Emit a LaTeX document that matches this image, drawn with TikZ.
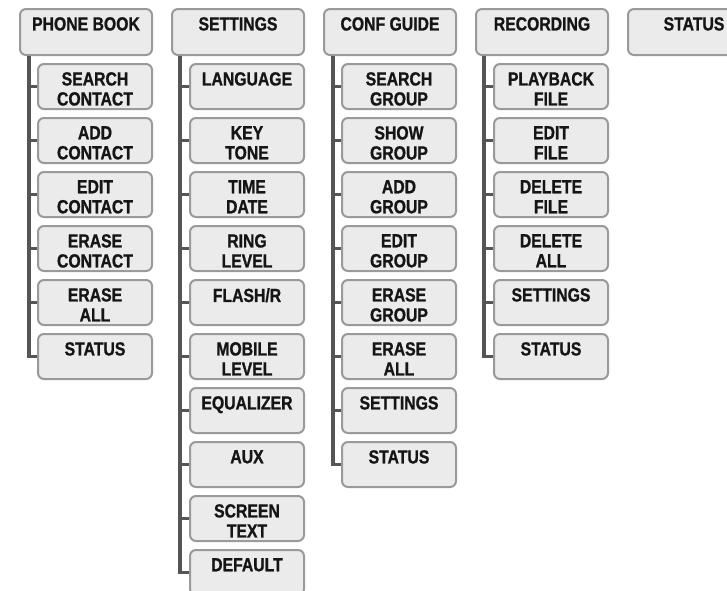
\documentclass[tikz,border=0pt]{standalone}
\usepackage{fontspec}
\setmainfont{Liberation Sans}[FakeStretch=0.83, BoldFeatures={FakeBold=1}]
\usepackage{xcolor}
\definecolor{boxfill}{HTML}{EBEBEB}
\definecolor{boxline}{HTML}{9A9A9A}
\definecolor{trunkgray}{HTML}{555555}
\definecolor{textblack}{HTML}{151515}
\begin{document}
\begin{tikzpicture}[x=1pt, y=-1pt,
  menu/.style={draw=boxline, fill=boxfill, line width=2pt, rounded corners=6pt, anchor=north west, inner sep=0pt},
  topbox/.style={menu, minimum width=132pt, minimum height=46pt},
  subbox/.style={menu, minimum width=114pt, minimum height=45pt},
  txt/.style={anchor=north, inner sep=0pt, yshift=-9pt, align=center, font=\fontsize{19}{20}\selectfont\bfseries, text=textblack}]
\tikzset{trunk/.style = {draw=trunkgray, line width=3.5pt}}
\useasboundingbox (0,0) rectangle (727,590);
% top menu
\node[topbox, label={[txt]north:PHONE BOOK}] (pb) at (19,8) {};
\node[topbox, label={[txt]north:SETTINGS}] (st) at (171,8) {};
\node[topbox, label={[txt]north:CONF GUIDE}] (cg) at (323,8) {};
\node[topbox, label={[txt]north:RECORDING}] (rc) at (475,8) {};
\node[topbox, label={[txt]north:STATUS}] (ss) at (627,8) {};
% phone book
\node[subbox, label={[txt]north:SEARCH\\CONTACT}] (pb1) at (37,63) {};
\node[subbox, label={[txt]north:ADD\\CONTACT}] (pb2) at (37,117) {};
\node[subbox, label={[txt]north:EDIT\\CONTACT}] (pb3) at (37,171) {};
\node[subbox, label={[txt]north:ERASE\\CONTACT}] (pb4) at (37,225) {};
\node[subbox, label={[txt]north:ERASE\\ALL}] (pb5) at (37,279) {};
\node[subbox, label={[txt]north:STATUS}] (pb6) at (37,333) {};
% settings
\node[subbox, label={[txt]north:LANGUAGE}] (st1) at (189,63) {};
\node[subbox, label={[txt]north:KEY\\TONE}] (st2) at (189,117) {};
\node[subbox, label={[txt]north:TIME\\DATE}] (st3) at (189,171) {};
\node[subbox, label={[txt]north:RING\\LEVEL}] (st4) at (189,225) {};
\node[subbox, label={[txt]north:FLASH/R}] (st5) at (189,279) {};
\node[subbox, label={[txt]north:MOBILE\\LEVEL}] (st6) at (189,333) {};
\node[subbox, label={[txt]north:EQUALIZER}] (st7) at (189,387) {};
\node[subbox, label={[txt]north:AUX}] (st8) at (189,441) {};
\node[subbox, label={[txt]north:SCREEN\\TEXT}] (st9) at (189,495) {};
\node[subbox, label={[txt]north:DEFAULT}] (st10) at (189,549) {};
% conf guide
\node[subbox, label={[txt]north:SEARCH\\GROUP}] (cg1) at (341,63) {};
\node[subbox, label={[txt]north:SHOW\\GROUP}] (cg2) at (341,117) {};
\node[subbox, label={[txt]north:ADD\\GROUP}] (cg3) at (341,171) {};
\node[subbox, label={[txt]north:EDIT\\GROUP}] (cg4) at (341,225) {};
\node[subbox, label={[txt]north:ERASE\\GROUP}] (cg5) at (341,279) {};
\node[subbox, label={[txt]north:ERASE\\ALL}] (cg6) at (341,333) {};
\node[subbox, label={[txt]north:SETTINGS}] (cg7) at (341,387) {};
\node[subbox, label={[txt]north:STATUS}] (cg8) at (341,441) {};
% recording
\node[subbox, label={[txt]north:PLAYBACK\\FILE}] (rc1) at (493,63) {};
\node[subbox, label={[txt]north:EDIT\\FILE}] (rc2) at (493,117) {};
\node[subbox, label={[txt]north:DELETE\\FILE}] (rc3) at (493,171) {};
\node[subbox, label={[txt]north:DELETE\\ALL}] (rc4) at (493,225) {};
\node[subbox, label={[txt]north:SETTINGS}] (rc5) at (493,279) {};
\node[subbox, label={[txt]north:STATUS}] (rc6) at (493,333) {};
% trunks
\draw[trunk] ([xshift=10pt]pb.south west) |- (pb1.west);
\draw[trunk] ([xshift=10pt]pb.south west) |- (pb2.west);
\draw[trunk] ([xshift=10pt]pb.south west) |- (pb3.west);
\draw[trunk] ([xshift=10pt]pb.south west) |- (pb4.west);
\draw[trunk] ([xshift=10pt]pb.south west) |- (pb5.west);
\draw[trunk] ([xshift=10pt]pb.south west) |- (pb6.west);
\draw[trunk] ([xshift=9pt]st.south west) |- (st1.west);
\draw[trunk] ([xshift=9pt]st.south west) |- (st2.west);
\draw[trunk] ([xshift=9pt]st.south west) |- (st3.west);
\draw[trunk] ([xshift=9pt]st.south west) |- (st4.west);
\draw[trunk] ([xshift=9pt]st.south west) |- (st5.west);
\draw[trunk] ([xshift=9pt]st.south west) |- (st6.west);
\draw[trunk] ([xshift=9pt]st.south west) |- (st7.west);
\draw[trunk] ([xshift=9pt]st.south west) |- (st8.west);
\draw[trunk] ([xshift=9pt]st.south west) |- (st9.west);
\draw[trunk] ([xshift=9pt]st.south west) |- (st10.west);
\draw[trunk] ([xshift=10pt]cg.south west) |- (cg1.west);
\draw[trunk] ([xshift=10pt]cg.south west) |- (cg2.west);
\draw[trunk] ([xshift=10pt]cg.south west) |- (cg3.west);
\draw[trunk] ([xshift=10pt]cg.south west) |- (cg4.west);
\draw[trunk] ([xshift=10pt]cg.south west) |- (cg5.west);
\draw[trunk] ([xshift=10pt]cg.south west) |- (cg6.west);
\draw[trunk] ([xshift=10pt]cg.south west) |- (cg7.west);
\draw[trunk] ([xshift=10pt]cg.south west) |- (cg8.west);
\draw[trunk] ([xshift=9pt]rc.south west) |- (rc1.west);
\draw[trunk] ([xshift=9pt]rc.south west) |- (rc2.west);
\draw[trunk] ([xshift=9pt]rc.south west) |- (rc3.west);
\draw[trunk] ([xshift=9pt]rc.south west) |- (rc4.west);
\draw[trunk] ([xshift=9pt]rc.south west) |- (rc5.west);
\draw[trunk] ([xshift=9pt]rc.south west) |- (rc6.west);
\end{tikzpicture}
\end{document}
